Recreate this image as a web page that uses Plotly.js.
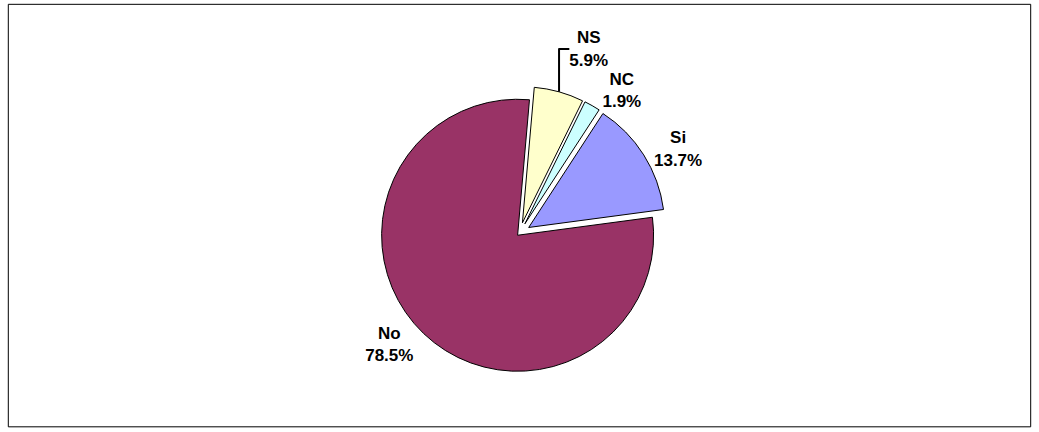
<!DOCTYPE html>
<html>
<head>
<meta charset="utf-8">
<script src="https://cdn.plot.ly/plotly-3.0.1.min.js"></script>
<style>body{margin:0;background:#fff}</style>
</head>
<body>
<div id="chart" style="width:1039px;height:432px"></div>
<script>
const labels = ['NS', 'NC', 'Si', 'No'];
const values = [5.9, 1.9, 13.7, 78.5];
const colors = ['#FFFFCC', '#CCFFFF', '#9999FF', '#993366'];

const trace = {
  type: 'pie',
  labels: labels,
  values: values,
  sort: false,
  direction: 'clockwise',
  rotation: 5,
  pull: [0.08, 0.08, 0.08, 0.02],
  marker: { colors: colors, line: { color: '#000', width: 1 } },
  texttemplate: '<b>%{label}</b><br><b>%{percent:.1%}</b>',
  textposition: 'outside',
  textfont: { family: 'Liberation Sans, Arial', size: 17, color: '#000' },
  showlegend: false,
  hoverinfo: 'none',
  automargin: false,
  domain: { x: [0.25, 0.75], y: [0.12, 0.8] },
};

const layout = {
  width: 1039,
  height: 432,
  margin: { l: 0, r: 0, t: 0, b: 0 },
  paper_bgcolor: '#fff',
  shapes: [{
    type: 'rect', xref: 'paper', yref: 'paper',
    x0: 0.008, x1: 0.992, y0: 0.012, y1: 0.99,
    line: { color: '#000', width: 1 },
  }],
};

Plotly.newPlot('chart', [trace], layout, { staticPlot: true });
</script>
</body>
</html>
